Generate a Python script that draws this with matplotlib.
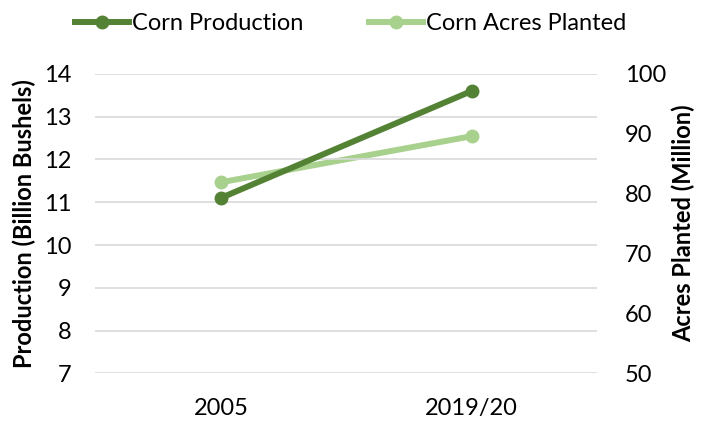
import matplotlib.pyplot as plt

plt.rcParams['font.family'] = ['Lato', 'DejaVu Sans']

years = ["2005", "2019/20"]
production = [11.1, 13.6]      # billion bushels
acres = [81.9, 89.6]           # million acres

dark = "#548235"
light = "#A9D18E"

fig, ax = plt.subplots(figsize=(7.01, 4.22), dpi=100)
fig.subplots_adjust(left=0.136, right=0.852, top=0.825, bottom=0.115)
ax2 = ax.twinx()

x = range(len(years))
l1, = ax.plot(x, production, color=dark, lw=4.3, marker="o", ms=9, label="Corn Production", zorder=3)
l2, = ax2.plot(x, acres, color=light, lw=4.3, marker="o", ms=9, label="Corn Acres Planted", zorder=2)
ax.set_zorder(ax2.get_zorder() + 1)
ax.patch.set_visible(False)

ax.set_xlim(-0.5, 1.5)
ax.set_ylim(7, 14)
ax2.set_ylim(50, 100)
ax.set_yticks(range(7, 15))
ax2.set_yticks(range(50, 101, 10))
ax.set_xticks(list(x))
ax.set_xticklabels(years)
ax.grid(axis="y", color="#d9d9d9", lw=1.2)

for a in (ax, ax2):
    for s in a.spines.values():
        s.set_visible(False)
    a.tick_params(length=0, labelsize=17, labelcolor="black")
ax.tick_params(axis="y", pad=17)
ax2.tick_params(axis="y", pad=20)
ax.tick_params(axis="x", pad=18)

ax.set_ylabel("Production (Billion Bushels)", fontsize=17, fontweight="bold", labelpad=6)
ax2.set_ylabel("Acres Planted (Million)", fontsize=17, fontweight="bold", labelpad=4)

fig.legend(handles=[l1, l2], loc="upper center", bbox_to_anchor=(0.5, 1.02), ncol=2,
           frameon=False, fontsize=17, handlelength=2.3, handletextpad=0.1, columnspacing=2.8)

fig.savefig("out.png", dpi=100)
